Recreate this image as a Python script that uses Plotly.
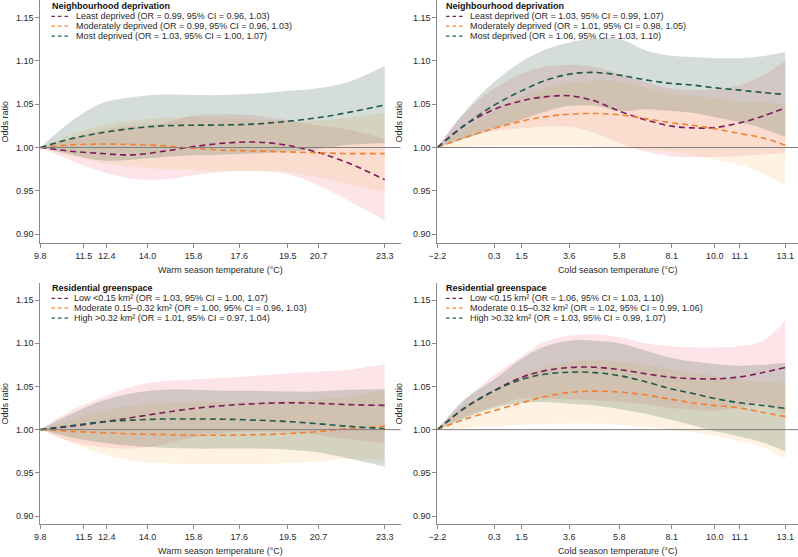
import plotly.graph_objects as go

# ---------------- data ----------------
warm_t = [9.8, 11.0, 12.2, 13.4, 14.6, 15.8, 17.0, 18.2, 19.4, 20.6, 21.8, 23.3]
cold_t = [-2.2, -1.0, 0.3, 1.5, 2.5, 3.6, 4.7, 5.8, 7.0, 8.1, 9.0, 10.0, 11.1, 12.1, 13.1]

warm_ticks = [9.8, 11.5, 12.4, 14.0, 15.8, 17.6, 19.5, 20.7, 23.3]
warm_ticklabels = ["9.8", "11.5", "12.4", "14.0", "15.8", "17.6", "19.5", "20.7", "23.3"]
cold_ticks = [-2.2, 0.3, 1.5, 3.6, 5.8, 8.1, 10.0, 11.1, 13.1]
cold_ticklabels = ["\u22122.2", "0.3", "1.5", "3.6", "5.8", "8.1", "10.0", "11.1", "13.1"]
y_ticks = [0.90, 0.95, 1.00, 1.05, 1.10, 1.15]

# Panel A: neighbourhood deprivation, warm season
dep_warm_least = [1.000, 0.9957, 0.9931, 0.9915, 0.9955, 1.001, 1.005, 1.0063, 1.003, 0.995, 0.983, 0.963]
dep_warm_least_hi = [1.000, 1.010, 1.020, 1.025, 1.028, 1.037, 1.038, 1.037, 1.032, 1.026, 1.021, 1.010]
dep_warm_least_lo = [1.000, 0.985, 0.972, 0.964, 0.963, 0.968, 0.972, 0.973, 0.970, 0.958, 0.940, 0.916]
dep_warm_mod = [1.000, 1.003, 1.004, 1.0035, 1.002, 0.999, 0.997, 0.996, 0.995, 0.994, 0.993, 0.993]
dep_warm_mod_hi = [1.000, 1.015, 1.025, 1.031, 1.034, 1.035, 1.034, 1.032, 1.031, 1.031, 1.034, 1.040]
dep_warm_mod_lo = [1.000, 0.990, 0.982, 0.978, 0.975, 0.974, 0.973, 0.973, 0.972, 0.966, 0.958, 0.949]
dep_warm_most = [1.000, 1.010, 1.017, 1.022, 1.025, 1.0257, 1.026, 1.027, 1.030, 1.034, 1.040, 1.049]
dep_warm_most_hi = [1.000, 1.030, 1.051, 1.058, 1.061, 1.0605, 1.0605, 1.062, 1.065, 1.068, 1.075, 1.094]
dep_warm_most_lo = [1.000, 0.992, 0.985, 0.986, 0.989, 0.991, 0.992, 0.993, 0.995, 0.998, 1.003, 1.005]

# Panel B: neighbourhood deprivation, cold season
dep_cold_least = [1.000, 1.0257, 1.0438, 1.0538, 1.0584, 1.0596, 1.0538, 1.0419, 1.0315, 1.0246, 1.0226, 1.023, 1.0284, 1.0361, 1.0457]
dep_cold_least_hi = [1.000, 1.040, 1.068, 1.085, 1.093, 1.095, 1.093, 1.085, 1.075, 1.068, 1.066, 1.067, 1.072, 1.083, 1.100]
dep_cold_least_lo = [1.000, 1.011, 1.019, 1.022, 1.024, 1.024, 1.017, 1.005, 0.995, 0.990, 0.989, 0.989, 0.990, 0.992, 0.993]
dep_cold_mod = [1.000, 1.0115, 1.022, 1.0304, 1.0353, 1.0384, 1.0392, 1.0377, 1.033, 1.0284, 1.0257, 1.0215, 1.0161, 1.0111, 1.0027]
dep_cold_mod_hi = [1.000, 1.022, 1.042, 1.059, 1.069, 1.075, 1.077, 1.076, 1.069, 1.062, 1.060, 1.057, 1.052, 1.052, 1.050]
dep_cold_mod_lo = [1.000, 1.001, 1.002, 1.002, 1.002, 1.002, 1.001, 0.999, 0.997, 0.995, 0.991, 0.986, 0.980, 0.970, 0.955]
dep_cold_most = [1.000, 1.0257, 1.0488, 1.0653, 1.0769, 1.0846, 1.0865, 1.0834, 1.0777, 1.0738, 1.072, 1.0688, 1.0661, 1.0634, 1.0611]
dep_cold_most_hi = [1.000, 1.041, 1.0757, 1.0988, 1.1123, 1.121, 1.1255, 1.125, 1.1115, 1.1057, 1.1042, 1.103, 1.103, 1.1053, 1.110]
dep_cold_most_lo = [1.000, 1.010, 1.022, 1.032, 1.041, 1.048, 1.048, 1.042, 1.044, 1.042, 1.040, 1.035, 1.029, 1.022, 1.012]

# Panel C: residential greenspace, warm season
grn_warm_low = [1.000, 1.0038, 1.0085, 1.0140, 1.0195, 1.0245, 1.0278, 1.030, 1.031, 1.0305, 1.029, 1.028]
grn_warm_low_hi = [1.000, 1.022, 1.037, 1.050, 1.056, 1.058, 1.060, 1.062, 1.065, 1.067, 1.069, 1.076]
grn_warm_low_lo = [1.000, 0.986, 0.980, 0.978, 0.983, 0.991, 0.996, 0.998, 0.997, 0.994, 0.989, 0.984]
grn_warm_mod = [1.000, 0.998, 0.9965, 0.995, 0.9943, 0.9935, 0.9935, 0.994, 0.9952, 0.9975, 1.001, 1.004]
grn_warm_mod_hi = [1.000, 1.012, 1.022, 1.028, 1.031, 1.032, 1.032, 1.032, 1.033, 1.035, 1.038, 1.045]
grn_warm_mod_lo = [1.000, 0.985, 0.972, 0.964, 0.961, 0.960, 0.960, 0.960, 0.961, 0.963, 0.966, 0.965]
grn_warm_high = [1.000, 1.0045, 1.009, 1.011, 1.0122, 1.0123, 1.012, 1.011, 1.0095, 1.007, 1.004, 1.001]
grn_warm_high_hi = [1.000, 1.018, 1.033, 1.042, 1.046, 1.046, 1.045, 1.045, 1.044, 1.044, 1.046, 1.047]
grn_warm_high_lo = [1.000, 0.991, 0.985, 0.981, 0.979, 0.978, 0.978, 0.978, 0.977, 0.974, 0.967, 0.957]

# Panel D: residential greenspace, cold season
grn_cold_low = [1.000, 1.025, 1.045, 1.0605, 1.068, 1.0718, 1.0722, 1.0695, 1.0645, 1.0605, 1.059, 1.0587, 1.061, 1.066, 1.072]
grn_cold_low_hi = [1.000, 1.034, 1.063, 1.085, 1.1014, 1.1085, 1.110, 1.107, 1.100, 1.0964, 1.0953, 1.095, 1.0964, 1.1025, 1.127]
grn_cold_low_lo = [1.000, 1.015, 1.027, 1.036, 1.036, 1.035, 1.034, 1.032, 1.029, 1.025, 1.023, 1.022, 1.026, 1.030, 1.018]
grn_cold_mod = [1.000, 1.012, 1.022, 1.031, 1.038, 1.043, 1.0445, 1.0435, 1.040, 1.035, 1.031, 1.028, 1.025, 1.020, 1.015]
grn_cold_mod_hi = [1.000, 1.027, 1.047, 1.062, 1.072, 1.078, 1.080, 1.079, 1.075, 1.070, 1.066, 1.062, 1.058, 1.055, 1.054]
grn_cold_mod_lo = [1.000, 1.002, 1.004, 1.0055, 1.0065, 1.007, 1.007, 1.0055, 1.003, 0.9995, 0.997, 0.993, 0.987, 0.980, 0.966]
grn_cold_high = [1.000, 1.025, 1.045, 1.058, 1.064, 1.0665, 1.066, 1.0625, 1.055, 1.047, 1.042, 1.036, 1.031, 1.028, 1.0245]
grn_cold_high_hi = [1.000, 1.035, 1.058, 1.082, 1.096, 1.103, 1.103, 1.100, 1.091, 1.083, 1.079, 1.076, 1.074, 1.075, 1.077]
grn_cold_high_lo = [1.000, 1.013, 1.025, 1.031, 1.032, 1.030, 1.028, 1.024, 1.018, 1.011, 1.005, 0.998, 0.992, 0.985, 0.975]

dep_title = "Neighbourhood deprivation"
grn_title = "Residential greenspace"
dep_warm_labels = ["Least deprived (OR = 0.99, 95% CI = 0.96, 1.03)",
                   "Moderately deprived (OR = 0.99, 95% CI = 0.96, 1.03)",
                   "Most deprived (OR = 1.03, 95% CI = 1.00, 1.07)"]
dep_cold_labels = ["Least deprived (OR = 1.03, 95% CI = 0.99, 1.07)",
                   "Moderately deprived (OR = 1.01, 95% CI = 0.98, 1.05)",
                   "Most deprived (OR = 1.06, 95% CI = 1.03, 1.10)"]
grn_warm_labels = ["Low <0.15 km\u00b2 (OR = 1.03, 95% CI = 1.00, 1.07)",
                   "Moderate 0.15\u20130.32 km\u00b2 (OR = 1.00, 95% CI = 0.96, 1.03)",
                   "High >0.32 km\u00b2 (OR = 1.01, 95% CI = 0.97, 1.04)"]
grn_cold_labels = ["Low <0.15 km\u00b2 (OR = 1.06, 95% CI = 1.03, 1.10)",
                   "Moderate 0.15\u20130.32 km\u00b2 (OR = 1.02, 95% CI = 0.99, 1.06)",
                   "High >0.32 km\u00b2 (OR = 1.03, 95% CI = 0.99, 1.07)"]

# ---------------- style ----------------
W, H = 798, 557
FONT = "Liberation Sans, Arial, sans-serif"
FS = 9
line_colors = ["#7e1b5c", "#f4812f", "#1d5b4b"]
fill_colors = ["rgba(238,120,140,0.20)", "rgba(250,195,110,0.20)", "rgba(45,85,60,0.20)"]
AXIS_COL = "#8a8a8a"
TXT = "#2a2a2a"

fig = go.Figure()

panels = [
    ("x", "y", warm_t,
     [(dep_warm_least, dep_warm_least_lo, dep_warm_least_hi),
      (dep_warm_mod, dep_warm_mod_lo, dep_warm_mod_hi),
      (dep_warm_most, dep_warm_most_lo, dep_warm_most_hi)], dep_warm_labels, dep_title),
    ("x2", "y2", cold_t,
     [(dep_cold_least, dep_cold_least_lo, dep_cold_least_hi),
      (dep_cold_mod, dep_cold_mod_lo, dep_cold_mod_hi),
      (dep_cold_most, dep_cold_most_lo, dep_cold_most_hi)], dep_cold_labels, dep_title),
    ("x3", "y3", warm_t,
     [(grn_warm_low, grn_warm_low_lo, grn_warm_low_hi),
      (grn_warm_mod, grn_warm_mod_lo, grn_warm_mod_hi),
      (grn_warm_high, grn_warm_high_lo, grn_warm_high_hi)], grn_warm_labels, grn_title),
    ("x4", "y4", cold_t,
     [(grn_cold_low, grn_cold_low_lo, grn_cold_low_hi),
      (grn_cold_mod, grn_cold_mod_lo, grn_cold_mod_hi),
      (grn_cold_high, grn_cold_high_lo, grn_cold_high_hi)], grn_cold_labels, grn_title),
]

for xa, ya, xs, series, labels, title in panels:
    for i, (mid, lo, hi) in enumerate(series):
        fig.add_trace(go.Scatter(x=xs, y=lo, xaxis=xa, yaxis=ya, mode="lines",
                                 line=dict(width=0, shape="spline", smoothing=1.0, color=fill_colors[i]),
                                 showlegend=False, hoverinfo="skip"))
        fig.add_trace(go.Scatter(x=xs, y=hi, xaxis=xa, yaxis=ya, mode="lines", fill="tonexty",
                                 fillcolor=fill_colors[i],
                                 line=dict(width=0, shape="spline", smoothing=1.0, color=fill_colors[i]),
                                 showlegend=False, hoverinfo="skip"))
    for i, (mid, lo, hi) in enumerate(series):
        fig.add_trace(go.Scatter(x=xs, y=mid, xaxis=xa, yaxis=ya, mode="lines",
                                 line=dict(width=1.6, color=line_colors[i], dash="6px,4px",
                                           shape="spline", smoothing=1.0),
                                 name=labels[i], showlegend=False))
    fig.add_shape(type="line", xref=f"{xa} domain", yref=ya, x0=0, x1=1, y0=1, y1=1,
                  line=dict(color="#808080", width=1), layer="above")

def px(x):
    return x / W

def py(y):
    return 1 - y / H

legend_pos = [(42, 6, 68), (441, 6, 466), (42, 288, 66), (441, 288, 466)]
for (lx, ly, tx), (_, _, _, _, labels, title) in zip(legend_pos, panels):
    fig.add_annotation(x=px(lx - 1), y=py(ly), xref="paper", yref="paper", text=f"<b>{title}</b>",
                       showarrow=False, xanchor="left", yanchor="middle",
                       font=dict(size=FS, color="#111", family=FONT))
    for i, lab in enumerate(labels):
        yy = ly + 10.3 + 9.9 * i
        fig.add_shape(type="line", xref="paper", yref="paper", x0=px(lx + 1), x1=px(lx + 18),
                      y0=py(yy), y1=py(yy),
                      line=dict(color=line_colors[i], width=1.2, dash="3.5px,3px"))
        fig.add_annotation(x=px(tx - 2), y=py(yy), xref="paper", yref="paper", text=lab,
                           showarrow=False, xanchor="left", yanchor="middle",
                           font=dict(size=FS, color=TXT, family=FONT))

common_axis = dict(showline=True, linecolor=AXIS_COL, linewidth=1.2, ticks="outside",
                   ticklen=4, tickcolor=AXIS_COL, tickwidth=1, showgrid=False, zeroline=False,
                   tickfont=dict(size=FS, color=TXT, family=FONT))

top_dom = [1 - 243.3 / H, 1.0]
bot_dom = [1 - 524.3 / H, 1 - 283 / H]
left_dom = [31.7 / W, 396 / W]
right_dom = [433.3 / W, 1.0]

def xaxis_cfg(dom, ticks, labels, rng, title, anchor):
    return dict(common_axis, domain=dom, range=rng, tickmode="array", tickvals=ticks,
                ticktext=labels, anchor=anchor,
                title=dict(text=title, standoff=6, font=dict(size=FS, color=TXT, family=FONT)))

def yaxis_cfg(dom, rng, anchor):
    return dict(common_axis, domain=dom, range=rng, tickmode="array", tickvals=y_ticks,
                tickformat=".2f", anchor=anchor,
                title=dict(text="Odds ratio", standoff=8, font=dict(size=FS, color=TXT, family=FONT)))

warm_rng = [9.8, 9.8 + (396 - 31.7) / 25.8]
cold_rng = [-2.2, -2.2 + (798 - 433.3) / 23.0]
top_rng = [0.8896, 1.1700]
bot_rng = [0.8904, 1.1697]

fig.update_layout(
    width=W, height=H, margin=dict(l=0, r=0, t=0, b=0),
    paper_bgcolor="white", plot_bgcolor="white", showlegend=False,
    font=dict(family=FONT, size=FS, color=TXT),
    xaxis=xaxis_cfg(left_dom, warm_ticks, warm_ticklabels, warm_rng, "Warm season temperature (\u00b0C)", "y"),
    yaxis=yaxis_cfg(top_dom, top_rng, "x"),
    xaxis2=xaxis_cfg(right_dom, cold_ticks, cold_ticklabels, cold_rng, "Cold season temperature (\u00b0C)", "y2"),
    yaxis2=yaxis_cfg(top_dom, top_rng, "x2"),
    xaxis3=xaxis_cfg(left_dom, warm_ticks, warm_ticklabels, warm_rng, "Warm season temperature (\u00b0C)", "y3"),
    yaxis3=yaxis_cfg(bot_dom, bot_rng, "x3"),
    xaxis4=xaxis_cfg(right_dom, cold_ticks, cold_ticklabels, cold_rng, "Cold season temperature (\u00b0C)", "y4"),
    yaxis4=yaxis_cfg(bot_dom, bot_rng, "x4"),
)

fig.write_html("out.html")
